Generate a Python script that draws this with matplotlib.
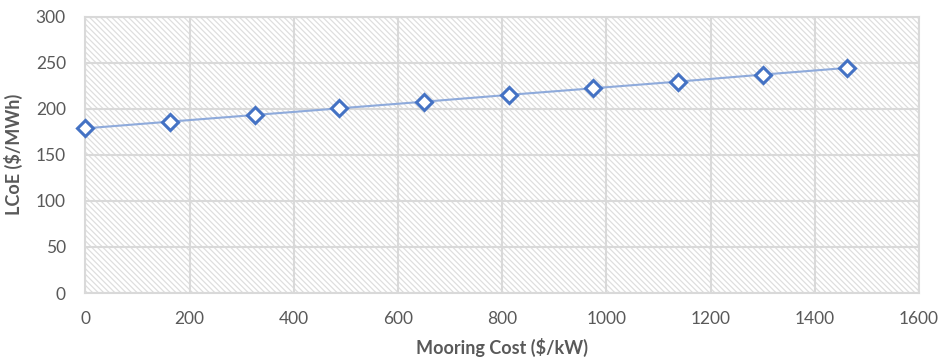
import numpy as np
import matplotlib
matplotlib.use('Agg')
import matplotlib.pyplot as plt
from matplotlib.patches import Rectangle

# mooring cost sweep vs levelised cost of energy
mooring_cost = [0, 162.5, 325, 487.5, 650, 812.5, 975, 1137.5, 1300, 1462.5]
lcoe = [178.7, 186.0, 193.2, 200.4, 207.6, 215.0, 222.2, 229.4, 237.0, 244.3]
x_ticks = [0, 200, 400, 600, 800, 1000, 1200, 1400, 1600]
y_ticks = [0, 50, 100, 150, 200, 250, 300]

plt.rcParams['font.family'] = ['Lato', 'DejaVu Sans']
plt.rcParams['hatch.linewidth'] = 0.9
grey_txt = '#595959'
grid_col = '#d9d9d9'

fig = plt.figure(figsize=(9.42, 3.64), dpi=100)
ax = fig.add_axes([0.0906, 0.195, 0.885, 0.7595])

# hatched plot area
ax.add_patch(Rectangle((0, 0), 1, 1, transform=ax.transAxes, facecolor='white',
                       edgecolor='#dedede', hatch='\\' * 6, lw=0, zorder=0))

ax.plot(mooring_cost, lcoe, color='#8eaadb', lw=1.5, zorder=3)
ax.plot(mooring_cost, lcoe, ls='none', marker='D', ms=8, mfc='white',
        mec='#4472c4', mew=2.2, zorder=4, clip_on=False)

ax.set_xlim(0, 1600)
ax.set_ylim(0, 300)
ax.set_xticks(x_ticks)
ax.set_yticks(y_ticks)
ax.grid(True, color=grid_col, lw=1.5, zorder=1)
ax.set_axisbelow(True)
for s in ax.spines.values():
    s.set_color(grid_col)
    s.set_linewidth(1.5)
ax.tick_params(length=0, labelsize=12.5, labelcolor=grey_txt)
ax.tick_params(axis='x', pad=13)
ax.tick_params(axis='y', pad=14)

ax.set_xlabel('Mooring Cost ($/kW)', fontsize=13, fontweight='bold', color=grey_txt, labelpad=8)
ax.set_ylabel('LCoE ($/MWh)', fontsize=13, fontweight='bold', color=grey_txt, labelpad=9)

plt.savefig('out.png', dpi=100)
